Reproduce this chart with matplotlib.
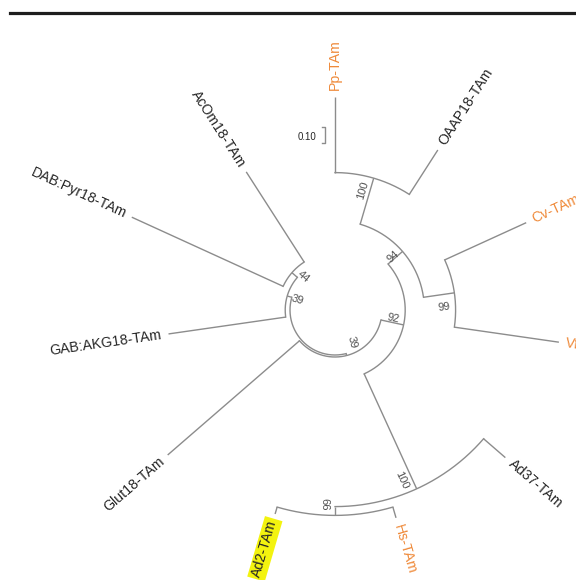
import numpy as np
import matplotlib
matplotlib.use("Agg")
import matplotlib.pyplot as plt
from matplotlib.lines import Line2D

plt.rcParams["font.family"] = ["Liberation Sans", "DejaVu Sans"]

# ---- tree data -------------------------------------------------------------
# leaves in clockwise order starting from the top
taxa = ["Pp-TAm", "OAAP18-TAm", "Cv-TAm", "Vf-TAm", "Ad37-TAm", "Hs-TAm",
        "Ad2-TAm", "Glut18-TAm", "GAB:AKG18-TAm", "DAB:Pyr18-TAm", "AcOm18-TAm"]
taxon_parent = ["n100a", "n100a", "n99", "n99", "n100b", "n66",
                "n66", "n39b", "n39a", "n44", "n44"]
taxon_length = [0.47, 0.33, 0.56, 0.66, 0.18, 0.07,
                0.045, 1.09, 0.74, 1.04, 0.67]
taxon_group = ["ref", "aa", "ref", "ref", "ad", "ref",
               "ad", "aa", "aa", "aa", "aa"]
highlighted = ["Ad2-TAm"]

# internal nodes: parent, branch length, bootstrap support
node_names = ["root", "n39a", "n44", "n39b", "n92", "n94", "n100a", "n99", "n100b", "n66"]
node_parent = [None, "root", "n39a", "root", "n39b", "n92", "n94", "n94", "n92", "n100b"]
node_length = [0.0, 0.03, 0.045, 0.0125, 0.145, 0.12, 0.30, 0.195, 0.79, 0.055]
node_support = [None, 39, 44, 39, 92, 94, 100, 99, 100, 66]

scale_bar = 0.10
scale_label = "0.10"

# ---- layout ----------------------------------------------------------------
W, H, DPI = 576, 580, 100
PX = 160.0                 # pixels per substitution unit
CX, CY = 335.0, 310.0      # tree centre in pixels
R0 = 45.0 / PX             # radius at which the root is drawn

LINE_C = "#8c8c8c"
TEXT_C = "#262626"
ORANGE = "#ef8a3a"
SUPPORT_C = "#505050"
group_color = {"ref": ORANGE, "aa": TEXT_C, "ad": TEXT_C}
support_nudge = {"n39a": 0.5, "n44": -4.5, "n39b": 11.5, "n92": 3.5, "n94": 1.5,
                 "n100a": 3.0, "n99": -6.5, "n100b": -3.0, "n66": -3.0}

# ---- build the tree --------------------------------------------------------
parent = dict(zip(node_names, node_parent))
parent.update(zip(taxa, taxon_parent))
length = dict(zip(node_names, node_length))
length.update(zip(taxa, taxon_length))

children = {n: [] for n in node_names}
for name, p in parent.items():
    if p is not None:
        children[p].append(name)

step = 360.0 / len(taxa)
angle = {t: 90.0 - i * step for i, t in enumerate(taxa)}


def get_angle(n):
    if n not in angle:
        a = [get_angle(c) for c in children[n]]
        angle[n] = 0.5 * (min(a) + max(a))
    return angle[n]


depth = {}


def get_depth(n):
    if n not in depth:
        p = parent[n]
        depth[n] = 0.0 if p is None else get_depth(p) + length[n]
    return depth[n]


for n in list(parent):
    get_angle(n)
    get_depth(n)

radius = {n: R0 + d for n, d in depth.items()}


def polar(r, deg):
    t = np.deg2rad(deg)
    return r * np.cos(t), r * np.sin(t)


def norm(deg):
    return (deg + 180.0) % 360.0 - 180.0


# ---- figure ----------------------------------------------------------------
fig = plt.figure(figsize=(W / DPI, H / DPI), dpi=DPI)
ax = fig.add_axes([0, 0, 1, 1])
ax.set_xlim(-CX / PX, (W - CX) / PX)
ax.set_ylim(-(H - CY) / PX, CY / PX)
ax.set_aspect("equal")
ax.axis("off")

lw = 1.0
# radial branches
for n, p in parent.items():
    if p is None:
        continue
    x0, y0 = polar(radius[p], angle[n])
    x1, y1 = polar(radius[n], angle[n])
    ax.plot([x0, x1], [y0, y1], color=LINE_C, lw=lw, solid_capstyle="butt")

# arcs joining the children of each internal node
for n in node_names:
    a = [angle[c] for c in children[n]]
    th = np.linspace(min(a), max(a), 200)
    x, y = polar(radius[n], th)
    ax.plot(x, y, color=LINE_C, lw=lw)

# leaf labels
gap = 7.0 / PX
for t, g in zip(taxa, taxon_group):
    a = norm(angle[t])
    x, y = polar(radius[t] + gap, angle[t])
    if -90.0 <= a <= 90.0:
        rot, ha = a, "left"
    else:
        rot, ha = norm(a - 180.0), "right"
    kw = {}
    if t in highlighted:
        kw["bbox"] = dict(boxstyle="square,pad=0.15", fc="#f3f30f", ec="none")
    ax.text(x, y, t, rotation=rot, rotation_mode="anchor", ha=ha, va="center",
            fontsize=10.2, color=group_color[g], **kw)

# bootstrap values
bgap = 5.0 / PX
for n, s in zip(node_names, node_support):
    if s is None:
        continue
    a = norm(angle[n])
    x, y = polar(radius[n] - bgap, angle[n] + support_nudge[n])
    if -90.0 <= a <= 90.0:
        rot, ha = a, "right"
    else:
        rot, ha = norm(a - 180.0), "left"
    ax.text(x, y, str(s), rotation=rot, rotation_mode="anchor", ha=ha, va="center",
            fontsize=8, color=SUPPORT_C)

# scale bar
sx = (325 - CX) / PX
sy0 = (CY - 143) / PX
sy1 = sy0 + scale_bar
tick = 3.0 / PX
ax.plot([sx - tick, sx, sx, sx - tick], [sy0, sy0, sy1, sy1], color=LINE_C, lw=lw)
ax.text(sx - 3 * tick, (sy0 + sy1) / 2 - 1.5 / PX, scale_label, ha="right", va="center",
        fontsize=7, color=TEXT_C)

# rule across the top of the panel
fig.add_artist(Line2D([10 / W, 1.0], [1 - 13 / H, 1 - 13 / H], transform=fig.transFigure,
                      color="#1e1e1e", lw=2.3))

fig.savefig("out.png", dpi=DPI)
